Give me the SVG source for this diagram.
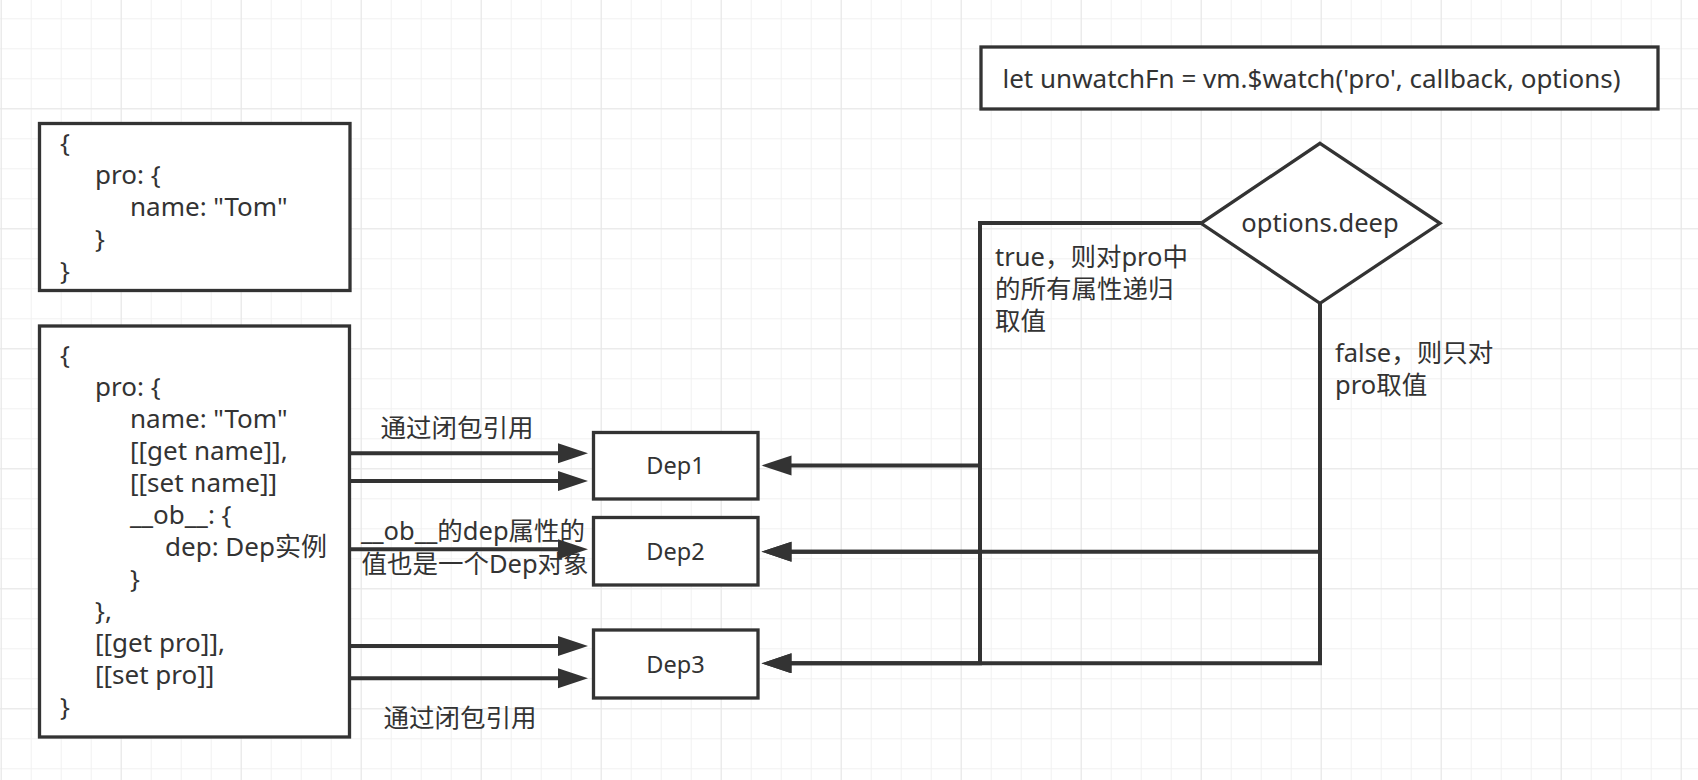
<svg xmlns="http://www.w3.org/2000/svg" width="1698" height="780" viewBox="0 0 1698 780">
  <defs>
    <pattern id="gridMinor" patternUnits="userSpaceOnUse" x="0.7" y="18.3" width="30" height="30">
      <path d="M0,0 H30 M0,0 V30" fill="none" stroke="#f1f1f1" stroke-width="2"/>
    </pattern>
    <pattern id="gridMajor" patternUnits="userSpaceOnUse" x="0.7" y="108.3" width="120" height="120">
      <path d="M0,0 H120 M0,0 V120" fill="none" stroke="#e7e7e7" stroke-width="2"/>
    </pattern>
    <marker id="arr" markerUnits="userSpaceOnUse" markerWidth="32" markerHeight="22" refX="2" refY="10" orient="auto">
      <path d="M0,0 L30,10 L0,20 Z" fill="#333"/>
    </marker>
    <style>
      .box { fill: #fff; stroke: #333; stroke-width: 3.3; }
      .t { font-family: "Noto Sans", "Noto Sans CJK SC", sans-serif; font-size: 25.5px; fill: #333; }
      .code { font-size: 26px; }
      .dep { font-family: "Noto Sans", "Noto Sans CJK SC", sans-serif; font-size: 23.5px; fill: #333; text-anchor: middle; }
      .mid { text-anchor: middle; }
      .conn { fill: none; stroke: #333; stroke-width: 4; marker-end: url(#arr); }
    </style>
  </defs>

  <rect x="0" y="0" width="1698" height="780" fill="#fff"/>
  <rect x="0" y="0" width="1698" height="780" fill="url(#gridMinor)"/>
  <rect x="0" y="0" width="1698" height="780" fill="url(#gridMajor)"/>

  <g id="connectors">
    <path class="conn" d="M350,453.3 H560"/>
    <path class="conn" d="M350,481 H560"/>
    <path class="conn" d="M350,549.3 H560"/>
    <path class="conn" d="M350,646 H560"/>
    <path class="conn" d="M350,678.3 H560"/>
    <path class="conn" d="M1201,223 H980 V465.5 H789.5"/>
    <path class="conn" d="M1201,223 H980 V551.7 H789.5"/>
    <path class="conn" d="M1201,223 H980 V663.3 H789.5"/>
    <path class="conn" d="M1320,303 V551.7 H789.5"/>
    <path class="conn" d="M1320,303 V663.3 H789.5"/>
    <text class="t mid" x="457" y="437">通过闭包引用</text>
    <text class="t mid" x="473" y="540">__ob__的dep属性的</text>
    <text class="t mid" x="475" y="573">值也是一个Dep对象</text>
    <text class="t mid" x="460" y="727">通过闭包引用</text>
    <text class="t" x="995" y="266">true，则对pro中</text>
    <text class="t" x="995" y="298">的所有属性递归</text>
    <text class="t" x="995" y="330">取值</text>
    <text class="t" x="1335" y="362">false，则只对</text>
    <text class="t" x="1335" y="394">pro取值</text>
  </g>

  <g id="obj-simple">
    <rect class="box" x="39.5" y="123.5" width="310.5" height="167"/>
    <text class="t code" x="60" y="152">{</text>
    <text class="t code" x="95" y="184">pro: {</text>
    <text class="t code" x="130" y="216">name: "Tom"</text>
    <text class="t code" x="95" y="248">}</text>
    <text class="t code" x="60" y="280">}</text>
  </g>

  <g id="obj-reactive">
    <rect class="box" x="39.5" y="326" width="310" height="411"/>
    <text class="t code" x="60" y="364">{</text>
    <text class="t code" x="95" y="396">pro: {</text>
    <text class="t code" x="130" y="428">name: "Tom"</text>
    <text class="t code" x="130" y="460">[[get name]],</text>
    <text class="t code" x="130" y="492">[[set name]]</text>
    <text class="t code" x="130" y="524">__ob__: {</text>
    <text class="t code" x="165" y="556">dep: Dep实例</text>
    <text class="t code" x="130" y="588">}</text>
    <text class="t code" x="95" y="620">},</text>
    <text class="t code" x="95" y="652">[[get pro]],</text>
    <text class="t code" x="95" y="684">[[set pro]]</text>
    <text class="t code" x="60" y="716">}</text>
  </g>

  <g id="dep1">
    <rect class="box" x="593.5" y="432.5" width="164.5" height="66.5"/>
    <text class="dep" x="675.5" y="474">Dep1</text>
  </g>
  <g id="dep2">
    <rect class="box" x="593.5" y="517.5" width="164.5" height="67.5"/>
    <text class="dep" x="675.5" y="559.5">Dep2</text>
  </g>
  <g id="dep3">
    <rect class="box" x="593.5" y="630" width="164.5" height="68"/>
    <text class="dep" x="675.5" y="672.5">Dep3</text>
  </g>

  <g id="watch-call">
    <rect class="box" x="981" y="47" width="677" height="62"/>
    <text class="t code" x="1002.5" y="88">let unwatchFn = vm.$watch('pro', callback, options)</text>
  </g>

  <g id="options-deep">
    <polygon class="box" points="1320,143.3 1440,223.3 1320,303.3 1201,223.3"/>
    <text class="t mid" x="1320" y="232">options.deep</text>
  </g>
</svg>
